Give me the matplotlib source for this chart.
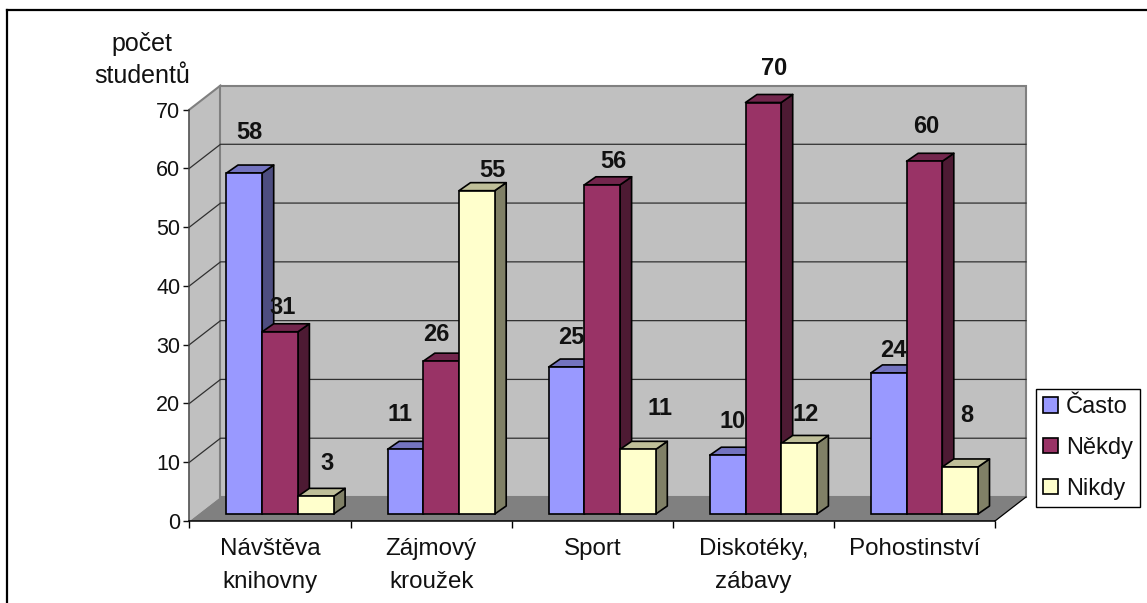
from matplotlib import pyplot as plt
from matplotlib.lines import Line2D
from matplotlib.patches import Patch, Polygon
import numpy as np

plt.rcParams['font.family'] = ['Liberation Sans', 'DejaVu Sans']

categories = ['Návštěva\nknihovny', 'Zájmový\nkroužek', 'Sport', 'Diskotéky,\nzábavy', 'Pohostinství']
series_names = ['Často', 'Někdy', 'Nikdy']
casto = [58, 11, 25, 10, 24]
nekdy = [31, 26, 56, 70, 60]
nikdy = [3, 55, 11, 12, 8]
y_ticks = [0, 10, 20, 30, 40, 50, 60, 70]

W, H = 1147, 603
fig = plt.figure(figsize=(W / 100, H / 100), dpi=100)

# axes box = the front edge of the chart, in pixels
left, right, y_bottom, y_top = 189.5, 995, 521, 109.5
ax = fig.add_axes([left / W, 1 - y_bottom / H, (right - left) / W, (y_bottom - y_top) / H])
ax.set_xlim(0, 5)
ax.set_ylim(0, 70)
ax.patch.set_visible(False)
px_x = 5 / (right - left)
px_y = 70 / (y_bottom - y_top)

# walls and floor
dx, dy = 31 * px_x, 24 * px_y
ax.add_patch(Polygon([(0, 0), (0, 70), (dx, 70 + dy), (dx, dy)], fc='#C0C0C0', ec='none', zorder=1, clip_on=False))
ax.add_patch(Polygon([(dx, dy), (dx, 70 + dy), (5 + dx, 70 + dy), (5 + dx, dy)], fc='#C0C0C0', ec='#808080', lw=1.5, zorder=1, clip_on=False))
ax.add_patch(Polygon([(0, 0), (5, 0), (5 + dx, dy), (dx, dy)], fc='#808080', ec='none', zorder=1.5, clip_on=False))
for v in y_ticks[1:-1]:
    ax.plot([0, dx, 5 + dx], [v, v + dy, v + dy], color='#303030', lw=0.9, zorder=1.2, clip_on=False)
ax.plot([0, dx], [70, 70 + dy], color='#808080', lw=1.5, zorder=1.2, clip_on=False)
ax.plot([5, 5 + dx], [0, dy], color='black', lw=0.9, zorder=1.6, clip_on=False)

# bars: front face from ax.bar, top and side from the same values
faces = ['#9999FF', '#993366', '#FFFFCC']
tops = ['#7373BF', '#73264D', '#BFBF99']
sides = ['#4D4D80', '#4D1A33', '#808066']
bar_w = 35.7 * px_x
start = 37 * px_x
base = 7 * px_y
bx, by = 11.5 * px_x, 8 * px_y
edge = dict(ec='black', lw=1.2, joinstyle='round', clip_on=False)

z = 2
for i, vals in enumerate([casto, nekdy, nikdy]):
    for c, v in enumerate(vals):
        x0 = c + start + i * bar_w
        x1 = x0 + bar_w
        t = base + v
        ax.add_patch(Polygon([(x1, base), (x1 + bx, base + by), (x1 + bx, t + by), (x1, t)], fc=sides[i], zorder=z, **edge))
        ax.add_patch(Polygon([(x0, t), (x1, t), (x1 + bx, t + by), (x0 + bx, t + by)], fc=tops[i], zorder=z, **edge))
        ax.bar(x0, v, bar_w, bottom=base, align='edge', color=faces[i], edgecolor='black', linewidth=1.2,
               zorder=z + 0.1, clip_on=False)
    z += 1

# value labels sit where the original chart left them (nudge in px from the bar top centre)
nudges = [
    [(5, 41), (-5, 35), (5, 30), (5, 34), (5, 22)],
    [(3, 24), (-5, 27), (11, 23), (11, 34), (2, 35)],
    [(11, 33), (16, 20), (22, 41), (7, 29), (7, 51)],
]
for i, vals in enumerate([casto, nekdy, nikdy]):
    for c, v in enumerate(vals):
        xc = c + start + (i + 0.5) * bar_w
        ax.annotate(str(v), (xc, base + v), xytext=(nudges[i][c][0] * 0.72, nudges[i][c][1] * 0.72),
                    textcoords='offset points', ha='center', va='center',
                    fontsize=17, fontweight='bold', color='#111111', zorder=10, annotation_clip=False)

# axes
for s in ['top', 'right']:
    ax.spines[s].set_visible(False)
for s in ['left', 'bottom']:
    ax.spines[s].set_linewidth(1.1)
    ax.spines[s].set_zorder(1.7)
ax.spines['left'].set_color('#404040')
ax.spines['bottom'].set_color('black')
ax.set_yticks(y_ticks)
ax.tick_params(axis='y', labelsize=15.5, length=4.5, width=1, pad=2, colors='#111111')
ax.set_xticks(np.arange(6))
ax.set_xticklabels([])
ax.set_xticks(np.arange(5) + 0.5, categories, minor=True)
ax.tick_params(axis='x', which='major', length=5, width=1)
ax.tick_params(axis='x', which='minor', length=0, labelsize=17.4, pad=12, colors='#111111')
for lab in ax.get_xticklabels(minor=True):
    lab.set_linespacing(1.66)

fig.text(142 / W, 1 - 60 / H, 'počet\nstudentů', ha='center', va='center', fontsize=18,
         linespacing=1.46, color='#111111')

handles = [Patch(fc=f, ec='black', lw=1.2) for f in faces]
leg = fig.legend(handles, series_names, loc='lower left', bbox_to_anchor=(1036 / W, 1 - 507 / H),
                 borderaxespad=0, fontsize=17, handlelength=0.63, handleheight=0.63,
                 handletextpad=0.33, labelspacing=0.8, borderpad=0.3, fancybox=False,
                 framealpha=1, edgecolor='black', labelcolor='#111111')
leg.get_frame().set_linewidth(1.0)

# chart frame, only top and left fall inside the picture
fig.add_artist(Line2D([7 / W, 7 / W], [0, 1 - 10 / H], color='black', lw=1.6))
fig.add_artist(Line2D([7 / W, 1], [1 - 10 / H, 1 - 10 / H], color='black', lw=1.6))

fig.savefig('out.png', dpi=100)
